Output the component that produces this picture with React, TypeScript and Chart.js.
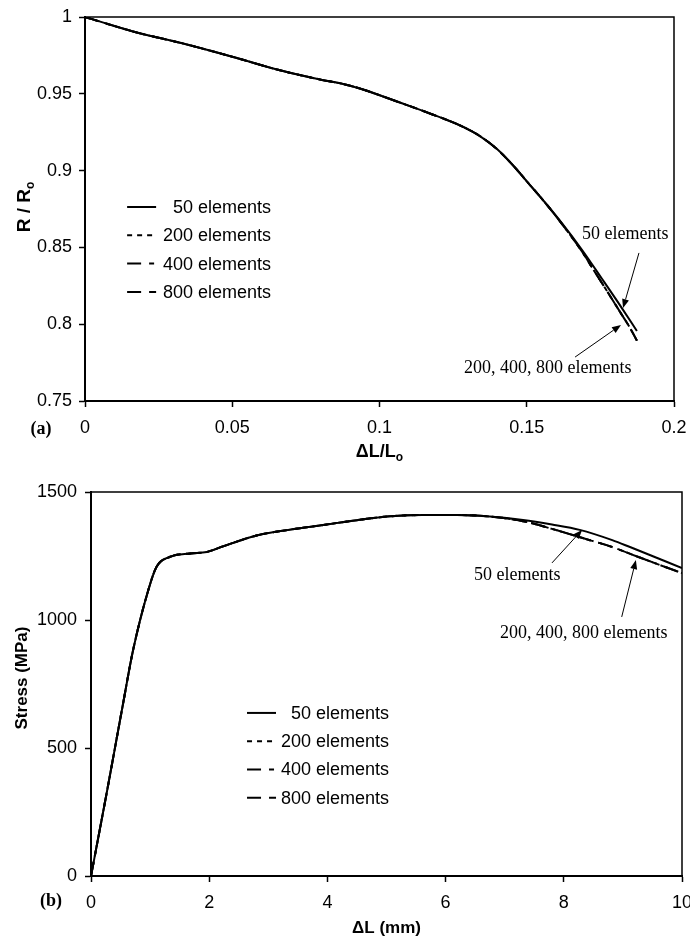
import React, { useEffect, useRef } from 'react';
import { Chart, registerables } from 'chart.js';

Chart.register(...registerables);

// ---------- shared ----------
const seriesLabels = ['50 elements', '200 elements', '400 elements', '800 elements'];

// ---------- panel (a): R/Ro vs ΔL/Lo ----------
const strainA = [0, 0.0163, 0.0346, 0.0503, 0.0652, 0.0798, 0.0883, 0.0944, 0.1059, 0.1171, 0.1284, 0.1341, 0.1399, 0.1453, 0.1511, 0.1569, 0.162, 0.1688, 0.1756, 0.1823, 0.1874];
const radius50 = [1, 0.9906, 0.9821, 0.974, 0.9658, 0.9593, 0.9561, 0.9528, 0.945, 0.9372, 0.9285, 0.9225, 0.914, 0.9035, 0.8906, 0.8776, 0.8656, 0.8483, 0.8294, 0.8105, 0.7956];
const strainAFine = [0, 0.0163, 0.0346, 0.0503, 0.0652, 0.0798, 0.0883, 0.0944, 0.1059, 0.1171, 0.1284, 0.1341, 0.1399, 0.1453, 0.1511, 0.1569, 0.162, 0.1688, 0.1725, 0.1783, 0.1817, 0.1851, 0.1874];
const radius200 = [1, 0.9906, 0.9821, 0.974, 0.9658, 0.9593, 0.9561, 0.9528, 0.945, 0.9372, 0.9285, 0.9225, 0.914, 0.9035, 0.8906, 0.8776, 0.8652, 0.8472, 0.8359, 0.8184, 0.8079, 0.7975, 0.7893];
const radius400 = [1, 0.9906, 0.9821, 0.974, 0.9658, 0.9593, 0.9561, 0.9528, 0.945, 0.9372, 0.9285, 0.9225, 0.914, 0.9035, 0.8906, 0.8776, 0.8652, 0.8472, 0.8359, 0.8184, 0.8079, 0.7975, 0.7893];
const radius800 = [1, 0.9906, 0.9821, 0.974, 0.9658, 0.9593, 0.9561, 0.9528, 0.945, 0.9372, 0.9285, 0.9225, 0.914, 0.9035, 0.8906, 0.8776, 0.8652, 0.8472, 0.8359, 0.8184, 0.8079, 0.7975, 0.7893];
const xTickLabelsA = ['0', '0.05', '0.1', '0.15', '0.2'];
const yTickLabelsA = ['0.75', '0.8', '0.85', '0.9', '0.95', '1'];

// ---------- panel (b): Stress vs ΔL ----------
const dispB = [0, 0.27, 0.54, 0.71, 0.97, 1.11, 1.34, 1.68, 1.96, 2.24, 2.8, 3.37, 3.93, 4.5, 5.06, 5.62, 6.19, 6.75, 7.31, 7.8, 8.27, 8.82, 9.12, 10];
const stress50 = [0, 330, 670, 880, 1117, 1208, 1247, 1260, 1266, 1288, 1330, 1353, 1371, 1390, 1405, 1410, 1410, 1404, 1391, 1373, 1352, 1312, 1285, 1203];
const dispBFine = [0, 0.27, 0.54, 0.71, 0.97, 1.11, 1.34, 1.68, 1.96, 2.24, 2.8, 3.37, 3.93, 4.5, 5.06, 5.62, 6.19, 6.75, 7.31, 7.8, 8.32, 8.82, 9.24, 10];
const stress200 = [0, 330, 670, 880, 1117, 1208, 1247, 1260, 1266, 1288, 1330, 1353, 1371, 1390, 1405, 1410, 1410, 1404, 1386, 1356, 1320, 1285, 1248, 1183];
const stress400 = [0, 330, 670, 880, 1117, 1208, 1247, 1260, 1266, 1288, 1330, 1353, 1371, 1390, 1405, 1410, 1410, 1404, 1386, 1356, 1320, 1285, 1248, 1183];
const stress800 = [0, 330, 670, 880, 1117, 1208, 1247, 1260, 1266, 1288, 1330, 1353, 1371, 1390, 1405, 1410, 1410, 1404, 1386, 1356, 1320, 1285, 1248, 1183];
const xTickLabelsB = ['0', '2', '4', '6', '8', '10'];
const yTickLabelsB = ['0', '500', '1000', '1500'];

// ---------- styling ----------
const SANS = '"Liberation Sans", Arial, Helvetica, sans-serif';
const SERIF = '"Liberation Serif", "Times New Roman", serif';
const DASHES = [[], [5, 5], [14, 8, 5, 8], [14, 8]];

type Part = { t: string; sub?: boolean };

function drawParts(ctx: CanvasRenderingContext2D, parts: Part[], size: number, cx: number, cy: number) {
  const main = `bold ${size}px ${SANS}`;
  const small = `bold ${Math.round(size * 0.64)}px ${SANS}`;
  let total = 0;
  const widths = parts.map((p) => {
    ctx.font = p.sub ? small : main;
    const w = ctx.measureText(p.t).width;
    total += w;
    return w;
  });
  let x = cx - total / 2;
  ctx.textAlign = 'left';
  ctx.textBaseline = 'middle';
  parts.forEach((p, i) => {
    ctx.font = p.sub ? small : main;
    ctx.fillText(p.t, x, p.sub ? cy + size * 0.3 : cy);
    x += widths[i];
  });
}

function arrow(ctx: CanvasRenderingContext2D, x1: number, y1: number, x2: number, y2: number) {
  const ang = Math.atan2(y2 - y1, x2 - x1);
  const hl = 9;
  const hw = 3.5;
  const bx = x2 - hl * Math.cos(ang);
  const by = y2 - hl * Math.sin(ang);
  ctx.lineWidth = 1;
  ctx.setLineDash([]);
  ctx.beginPath();
  ctx.moveTo(x1, y1);
  ctx.lineTo(bx, by);
  ctx.stroke();
  ctx.beginPath();
  ctx.moveTo(x2, y2);
  ctx.lineTo(bx + hw * Math.sin(ang), by - hw * Math.cos(ang));
  ctx.lineTo(bx - hw * Math.sin(ang), by + hw * Math.cos(ang));
  ctx.closePath();
  ctx.fill();
}

type Note = { text: string; tx: number; ty: number; from: [number, number]; to: [number, number] };
type Decor = {
  yTitle: Part[];
  yTitleSize: number;
  yTitleDx: number;
  yTitleCy: number;
  xTitle: Part[];
  xTitleSize: number;
  xTitleDy: number;
  panel: string;
  panelDx: number;
  panelDy: number;
  legendX: number;
  legendY: number;
  legendTextEnd: number;
  notes: Note[];
};

function makeDecor(cfg: Decor) {
  return {
    id: 'decor',
    afterDraw(chart: any) {
      const ctx: CanvasRenderingContext2D = chart.ctx;
      const a = chart.chartArea;
      const xs = chart.scales.x;
      const ys = chart.scales.y;
      ctx.save();
      ctx.strokeStyle = '#000';
      ctx.fillStyle = '#000';
      // top and right frame
      ctx.lineWidth = 1.5;
      ctx.beginPath();
      ctx.moveTo(a.left, a.top);
      ctx.lineTo(a.right, a.top);
      ctx.lineTo(a.right, a.bottom);
      ctx.stroke();

      // axis titles
      ctx.save();
      ctx.translate(a.left + cfg.yTitleDx, a.top + cfg.yTitleCy);
      ctx.rotate(-Math.PI / 2);
      drawParts(ctx, cfg.yTitle, cfg.yTitleSize, 0, 0);
      ctx.restore();
      drawParts(ctx, cfg.xTitle, cfg.xTitleSize, (a.left + a.right) / 2, a.bottom + cfg.xTitleDy);

      // panel label
      ctx.font = `bold 18px ${SERIF}`;
      ctx.textAlign = 'center';
      ctx.textBaseline = 'middle';
      ctx.fillText(cfg.panel, a.left + cfg.panelDx, a.bottom + cfg.panelDy);

      // legend
      const lx = xs.getPixelForValue(cfg.legendX);
      const ly = ys.getPixelForValue(cfg.legendY);
      chart.data.datasets.forEach((ds: any, i: number) => {
        const y = ly + i * 28.3;
        ctx.lineWidth = 2;
        ctx.setLineDash(ds.borderDash || []);
        ctx.beginPath();
        ctx.moveTo(lx, y);
        ctx.lineTo(lx + 29, y);
        ctx.stroke();
        ctx.setLineDash([]);
        ctx.font = `18px ${SANS}`;
        ctx.textAlign = 'right';
        ctx.textBaseline = 'middle';
        ctx.fillText(ds.label, lx + cfg.legendTextEnd, y + 1);
      });

      // annotations
      cfg.notes.forEach((n) => {
        ctx.font = `18px ${SERIF}`;
        ctx.textAlign = 'left';
        ctx.textBaseline = 'middle';
        ctx.fillText(n.text, xs.getPixelForValue(n.tx), ys.getPixelForValue(n.ty));
        arrow(
          ctx,
          xs.getPixelForValue(n.from[0]),
          ys.getPixelForValue(n.from[1]),
          xs.getPixelForValue(n.to[0]),
          ys.getPixelForValue(n.to[1])
        );
      });
      ctx.restore();
    },
  };
}

function series(xs: number[], ys: number[], i: number) {
  return {
    label: seriesLabels[i],
    data: xs.map((x, k) => ({ x, y: ys[k] })),
    borderColor: '#000',
    borderWidth: 2,
    borderDash: DASHES[i],
    pointRadius: 0,
    fill: false,
    cubicInterpolationMode: 'monotone' as const,
  };
}

function axis(min: number, max: number, step: number, labels: string[], isY: boolean, size: number, pad: number) {
  return {
    type: 'linear' as const,
    min,
    max,
    ticks: {
      stepSize: step,
      autoSkip: false,
      maxRotation: 0,
      padding: pad,
      color: '#000',
      font: { family: SANS, size: 18 },
      callback: (_v: any, i: number) => labels[i],
    },
    grid: {
      display: true,
      drawOnChartArea: false,
      drawTicks: true,
      tickLength: 6,
      tickWidth: 1.5,
      tickColor: '#000',
      color: '#000',
    },
    border: { display: true, color: '#000', width: 2 },
    afterFit: (s: any) => {
      if (isY) s.width = size;
      else s.height = size;
      s.paddingLeft = 0;
      s.paddingRight = 0;
      s.paddingTop = 0;
      s.paddingBottom = 0;
    },
  };
}

function configA(): any {
  return {
    type: 'line',
    data: {
      datasets: [
        series(strainA, radius50, 0),
        series(strainAFine, radius200, 1),
        series(strainAFine, radius400, 2),
        series(strainAFine, radius800, 3),
      ],
    },
    options: {
      responsive: false,
      animation: false,
      events: [],
      layout: { padding: { left: 0, top: 17, right: 16, bottom: 9 } },
      plugins: { legend: { display: false }, tooltip: { enabled: false } },
      scales: {
        x: axis(0, 0.2, 0.05, xTickLabelsA, false, 60, 10),
        y: axis(0.75, 1, 0.05, yTickLabelsA, true, 85, 7),
      },
    },
    plugins: [
      makeDecor({
        yTitle: [{ t: 'R / R' }, { t: 'o', sub: true }],
        yTitleSize: 19,
        yTitleDx: -60,
        yTitleCy: 190,
        xTitle: [{ t: 'ΔL/L' }, { t: 'o', sub: true }],
        xTitleSize: 18,
        xTitleDy: 51,
        panel: '(a)',
        panelDx: -44,
        panelDy: 28,
        legendX: 0.0143,
        legendY: 0.8763,
        legendTextEnd: 144,
        notes: [
          { text: '50 elements', tx: 0.1688, ty: 0.8587, from: [0.1881, 0.8464], to: [0.1827, 0.8105] },
          { text: '200, 400, 800 elements', tx: 0.1287, ty: 0.7715, from: [0.1664, 0.7786], to: [0.182, 0.7995] },
        ],
      }),
    ],
  };
}

function configB(): any {
  return {
    type: 'line',
    data: {
      datasets: [
        series(dispB, stress50, 0),
        series(dispBFine, stress200, 1),
        series(dispBFine, stress400, 2),
        series(dispBFine, stress800, 3),
      ],
    },
    options: {
      responsive: false,
      animation: false,
      events: [],
      layout: { padding: { left: 0, top: 22, right: 8, bottom: 5 } },
      plugins: { legend: { display: false }, tooltip: { enabled: false } },
      scales: {
        x: axis(0, 10, 2, xTickLabelsB, false, 60, 10),
        y: axis(0, 1500, 500, yTickLabelsB, true, 91, 8),
      },
    },
    plugins: [
      makeDecor({
        yTitle: [{ t: 'Stress (MPa)' }],
        yTitleSize: 17,
        yTitleDx: -69,
        yTitleCy: 186,
        xTitle: [{ t: 'ΔL (mm)' }],
        xTitleSize: 17,
        xTitleDy: 52,
        panel: '(b)',
        panelDx: -40,
        panelDy: 25,
        legendX: 2.64,
        legendY: 637,
        legendTextEnd: 142,
        notes: [
          { text: '50 elements', tx: 6.48, ty: 1176, from: [7.8, 1223], to: [8.31, 1352] },
          { text: '200, 400, 800 elements', tx: 6.92, ty: 949, from: [8.98, 1012], to: [9.22, 1234] },
        ],
      }),
    ],
  };
}

function ChartCanvas({ make, top, height }: { make: () => any; top: number; height: number }) {
  const ref = useRef<HTMLCanvasElement>(null);
  useEffect(() => {
    if (!ref.current) return;
    const chart = new Chart(ref.current, make());
    return () => chart.destroy();
  }, [make]);
  return (
    <canvas
      ref={ref}
      width={690}
      height={height}
      style={{ position: 'absolute', left: 0, top, width: 690, height, display: 'block' }}
    />
  );
}

export default function App() {
  return (
    <div style={{ position: 'absolute', left: 0, top: 0, width: 690, height: 941, background: '#fff' }}>
      <ChartCanvas make={configA} top={0} height={470} />
      <ChartCanvas make={configB} top={470} height={471} />
    </div>
  );
}
